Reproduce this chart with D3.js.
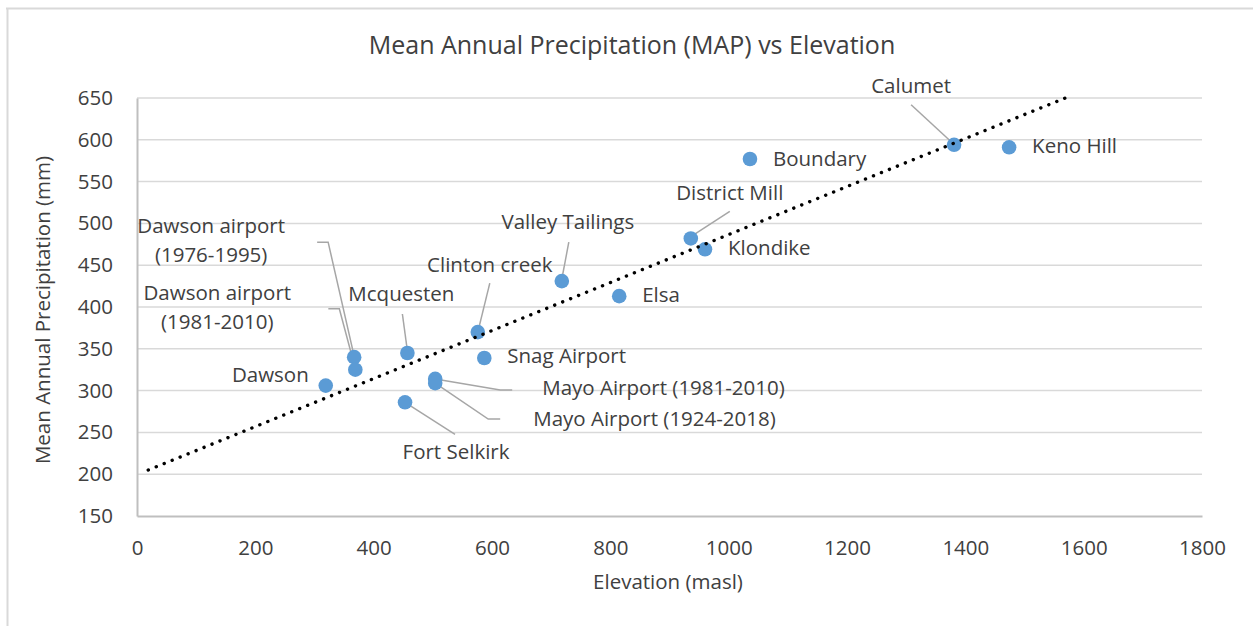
<!DOCTYPE html>
<html lang="en">
<head>
<meta charset="UTF-8">
<title>MAP vs Elevation</title>
<script src="https://d3js.org/d3.v7.min.js"></script>
<style>
  body { margin: 0; background: white; }
  text { font-family: "Open Sans", sans-serif; fill: #404040; }
</style>
</head>
<body>
<svg id="main" width="1253" height="626"></svg>
<script>
// data
let stations = ["Dawson", "Dawson airport (1976-1995)", "Dawson airport (1981-2010)", "Mcquesten",
    "Clinton creek", "Snag Airport", "Mayo Airport (1981-2010)", "Mayo Airport (1924-2018)",
    "Fort Selkirk", "Valley Tailings", "Elsa", "District Mill", "Klondike", "Boundary",
    "Calumet", "Keno Hill"];
let elevation = [319, 367, 369, 457, 576, 587, 504, 504, 453, 718, 815, 936, 960, 1036, 1381, 1474];
let precip = [306, 340, 325, 345, 370, 339, 314, 309, 286, 431, 413, 482, 469, 577, 594, 591];
let trendX = [19, 1569];
let trendY = [205, 650];
let xTicks = [0, 200, 400, 600, 800, 1000, 1200, 1400, 1600, 1800];
let yTicks = [150, 200, 250, 300, 350, 400, 450, 500, 550, 600, 650];

// label layout: text position (pixels offset from point), anchor, leader line points (offsets)
let labelLayout = {
    "Dawson": {dx: -17, dy: -9, anchor: "end", leader: null},
    "Dawson airport (1976-1995)": {dx: -143, dy: -115, anchor: "middle", lines: 2, leader: [[-37, -115], [-26, -115], [0, -1]]},
    "Dawson airport (1981-2010)": {dx: -138, dy: -60, anchor: "middle", lines: 2, leader: [[-27, -61], [-16, -61], [0, -1]]},
    "Mcquesten": {dx: -6, dy: -57, anchor: "middle", leader: [[-5, -39], [0, -2]]},
    "Clinton creek": {dx: 12, dy: -66, anchor: "middle", leader: [[12, -49], [0, 0]]},
    "Snag Airport": {dx: 23, dy: 0, anchor: "start", leader: null},
    "Mayo Airport (1981-2010)": {dx: 107, dy: 11, anchor: "start", leader: [[77, 11], [65, 11], [0, 0]]},
    "Mayo Airport (1924-2018)": {dx: 98, dy: 37, anchor: "start", leader: [[65, 36], [53, 36], [0, 0]]},
    "Fort Selkirk": {dx: 51, dy: 51, anchor: "middle", leader: [[50, 32], [0, 0]]},
    "Valley Tailings": {dx: 6, dy: -58, anchor: "middle", leader: [[7, -39], [0, -2]]},
    "Elsa": {dx: 23, dy: 0, anchor: "start", leader: null},
    "District Mill": {dx: 39, dy: -44, anchor: "middle", leader: [[39, -27], [2, -3]]},
    "Klondike": {dx: 23, dy: 0, anchor: "start", leader: null},
    "Boundary": {dx: 23, dy: 1, anchor: "start", leader: null},
    "Calumet": {dx: -43, dy: -57, anchor: "middle", leader: [[-43, -40], [-4, -4]]},
    "Keno Hill": {dx: 23, dy: 0, anchor: "start", leader: null}
};

let data = stations.map(function (s, i) {
    return {name: s, x: elevation[i], y: precip[i]};
});

let svg = d3.select('svg#main');
let plot = {left: 137, right: 1202, top: 98, bottom: 516};

// chart frame (only top and left edges visible in the crop)
svg.append('line').attr('x1', 6).attr('x2', 1253).attr('y1', 8.5).attr('y2', 8.5)
    .style('stroke', '#d9d9d9').style('stroke-width', 2);
svg.append('line').attr('x1', 7.5).attr('x2', 7.5).attr('y1', 8).attr('y2', 626)
    .style('stroke', '#d9d9d9').style('stroke-width', 2);

let xScale = d3.scaleLinear().domain([0, 1800]).range([plot.left, plot.right]);
let yScale = d3.scaleLinear().domain([150, 650]).range([plot.bottom, plot.top]);

// gridlines
svg.append('g').selectAll('line').data(yTicks.slice(1)).join('line')
    .attr('x1', plot.left).attr('x2', plot.right)
    .attr('y1', function (d) { return yScale(d); })
    .attr('y2', function (d) { return yScale(d); })
    .style('stroke', '#d9d9d9').style('stroke-width', 1.5);

// axes
let xAxis = svg.append('g')
    .attr('transform', 'translate(0,' + plot.bottom + ')')
    .call(d3.axisBottom(xScale).tickValues(xTicks).tickFormat(d3.format('d')).tickSize(0).tickPadding(24));
let yAxis = svg.append('g')
    .attr('transform', 'translate(' + plot.left + ',0)')
    .call(d3.axisLeft(yScale).tickValues(yTicks).tickFormat(d3.format('d')).tickSize(0).tickPadding(24));
[xAxis, yAxis].forEach(function (a) {
    a.select('.domain').style('stroke', '#bfbfbf').style('stroke-width', 2);
    a.selectAll('text').style('font-size', '20.5px').style('fill', '#404040')
        .style('font-family', '"Open Sans", sans-serif');
});

// trendline
let trend = trendX.map(function (v, i) { return [v, trendY[i]]; });
let line = d3.line()
    .x(function (d) { return xScale(d[0]); })
    .y(function (d) { return yScale(d[1]); });

// leader lines
let leaders = svg.append('g');
data.forEach(function (d) {
    let lay = labelLayout[d.name];
    if (!lay.leader) return;
    let px = xScale(d.x), py = yScale(d.y);
    leaders.append('polyline')
        .attr('points', lay.leader.map(function (p) { return (px + p[0]) + ',' + (py + p[1]); }).join(' '))
        .style('fill', 'none').style('stroke', '#a6a6a6').style('stroke-width', 1.5);
});

// points
svg.append('g').selectAll('circle').data(data).join('circle')
    .attr('cx', function (d) { return xScale(d.x); })
    .attr('cy', function (d) { return yScale(d.y); })
    .attr('r', 7.3)
    .style('fill', '#5b9bd5');

// trend dots drawn over the points
svg.append('path').datum(trend)
    .attr('d', line)
    .style('fill', 'none').style('stroke', 'black')
    .style('stroke-width', 3.4).style('stroke-linecap', 'round')
    .style('stroke-dasharray', '0.1 8.5');

// data labels
let labels = svg.append('g');
data.forEach(function (d) {
    let lay = labelLayout[d.name];
    let px = xScale(d.x), py = yScale(d.y);
    let t = labels.append('text')
        .attr('x', px + lay.dx)
        .attr('y', py + lay.dy)
        .attr('text-anchor', lay.anchor)
        .attr('dominant-baseline', 'middle')
        .style('font-size', '20.5px');
    if (lay.lines === 2) {
        let parts = d.name.split(' (');
        t.append('tspan').attr('x', px + lay.dx).attr('dy', '-0.7em').text(parts[0]);
        t.append('tspan').attr('x', px + lay.dx).attr('dy', '1.4em').text('(' + parts[1]);
    } else {
        t.text(d.name);
    }
});

// titles
svg.append('text').attr('x', 632).attr('y', 47)
    .attr('text-anchor', 'middle').attr('dominant-baseline', 'middle')
    .style('font-size', '25px')
    .text('Mean Annual Precipitation (MAP) vs Elevation');
svg.append('text').attr('x', 668).attr('y', 584)
    .attr('text-anchor', 'middle').attr('dominant-baseline', 'middle')
    .style('font-size', '20.5px')
    .text('Elevation (masl)');
svg.append('text')
    .attr('transform', 'translate(45,' + 310 + ') rotate(-90)')
    .attr('text-anchor', 'middle').attr('dominant-baseline', 'middle')
    .style('font-size', '20.5px')
    .text('Mean Annual Precipitation (mm)');
</script>
</body>
</html>
